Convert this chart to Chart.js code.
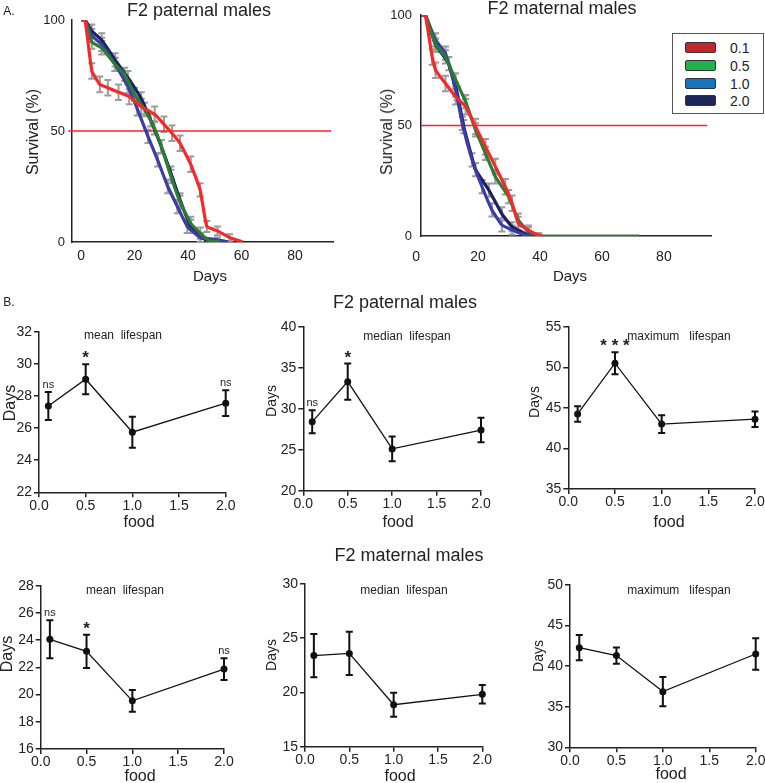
<!DOCTYPE html>
<html>
<head>
<meta charset="utf-8">
<script src="https://cdn.jsdelivr.net/npm/chart.js@4.4.0/dist/chart.umd.min.js"></script>
<style>
html, body { margin:0; padding:0; width:765px; height:783px; overflow:hidden; background:#fff; }
body { position:relative; font-family:"Liberation Sans", Arial, Helvetica, sans-serif; color:#222; }
canvas { position:absolute; }
.txt { position:absolute; white-space:pre; line-height:1; transform:translate(-50%,-50%); }
.rot { transform:translate(-50%,-50%) rotate(-90deg); }
#legend { position:absolute; left:672px; top:33px; width:92px; height:81px; border:1px solid #555; box-sizing:border-box; background:#fff; }
.sw { position:absolute; left:12px; width:31px; height:11px; border:1px solid #333; border-radius:2px; box-sizing:border-box; }
.lg { position:absolute; left:57px; font-size:14px; line-height:1; }
</style>
</head>
<body>
<canvas id="survPat"></canvas>
<canvas id="survMat"></canvas>
<canvas id="patMeanC"></canvas>
<canvas id="patMedianC"></canvas>
<canvas id="patMaxC"></canvas>
<canvas id="matMeanC"></canvas>
<canvas id="matMedianC"></canvas>
<canvas id="matMaxC"></canvas>
<div id="legend"></div>
<script>
// ---- survival curves (panel A) ----
var seriesLabels = ['0.1', '0.5', '1.0', '2.0'];
var lineColors = ['#f42a2a', '#2b7d33', '#3b3da6', '#1d1e66'];
var legendColors = ['#c1272d', '#20b14b', '#1574bb', '#1b2758'];
var survTicksX = [0, 20, 40, 60, 80];
var survTicksY = [0, 50, 100];

// paternal
var patDays01 = [0, 1.5, 4, 7, 10, 14, 18, 22.5, 27.5, 31, 34, 37, 41, 44.5, 47, 51, 55.5, 60.5];
var patSurv01 = [100, 100, 77, 71, 69.5, 67.5, 65.5, 61, 57.5, 53, 49, 44.5, 35, 23.5, 7, 5, 2, 0];
var patErr01 = [0, 0, 3.5, 3.5, 3.5, 3.5, 3.5, 3.5, 3.5, 3.5, 3.5, 3.5, 3.5, 3, 2.5, 2, 1.5, 0];
var patDays05 = [0, 1.5, 4, 7.7, 12.7, 16.3, 20, 23.7, 27.4, 30, 33.6, 37, 41, 44.6, 48, 52];
var patSurv05 = [100, 100, 90, 87.5, 80, 75.5, 66.5, 59.7, 51.4, 43, 29.5, 18, 8.4, 4, 0.5, 0];
var patErr05 = [0, 0, 3, 3, 3, 3, 3, 3, 3, 3, 3, 3, 3, 2.5, 1, 0];
var patDays10 = [0, 1.5, 4, 7.7, 12.7, 17.5, 21, 25, 28.6, 32.4, 36, 39.7, 44.6, 51, 55];
var patSurv10 = [100, 100, 93, 89, 80, 70, 60, 47.6, 37, 25, 16, 7, 2, 1, 0];
var patErr10 = [0, 0, 3, 3, 3, 3, 3, 3, 3, 3, 3, 3, 2, 1, 0];
var patDays20 = [0, 1.5, 4, 7.7, 12.7, 17.5, 22.5, 26, 30, 33.6, 37, 41, 44.6, 48, 52];
var patSurv20 = [100, 100, 95, 91, 82, 74, 64.5, 55, 43, 31, 19, 7, 2, 0.5, 0];
var patErr20 = [0, 0, 3, 3, 3, 3, 3, 3, 3, 3, 3, 3, 2, 1, 0];

// maternal
var matDays01 = [1.7, 3, 5.2, 6.3, 9.5, 12.8, 16, 19.2, 22.4, 25.6, 28.8, 31, 33, 36.3, 39.5, 41];
var matSurv01 = [100, 100, 81, 75, 69, 63, 58.5, 49.5, 40.4, 31.4, 22.3, 14.8, 5.7, 2.7, 0.4, 0];
var matErr01 = [0, 0, 3.5, 3.5, 3.5, 3.5, 3.5, 3.5, 3.5, 3.5, 3.5, 3.5, 3, 2, 1, 0];
var matDays05 = [1.7, 3, 6.3, 9.5, 12.8, 16, 19.2, 22.4, 25.6, 29.9, 33, 36.3, 39.5, 41, 72];
var matSurv05 = [100, 100, 86.4, 81, 70.6, 60.8, 48, 37.4, 26.8, 17.8, 7.2, 2, 0.3, 0, 0];
var matErr05 = [0, 0, 3, 3, 3, 3, 3, 3, 3, 3, 3, 2, 1, 0, 0];
var matDays10 = [1.7, 3, 6.3, 9.5, 12.8, 14.9, 18.1, 21.3, 24.5, 27.7, 31, 35.3, 38];
var matSurv10 = [100, 100, 88.7, 82.7, 66, 51, 34.4, 22.3, 11.8, 5, 2.7, 0.4, 0];
var matErr10 = [0, 0, 3, 3, 3, 3, 3, 3, 3, 3, 2, 1, 0];
var matDays20 = [1.7, 3, 6.3, 10.6, 13.3, 15.4, 19.2, 23.5, 27.7, 31, 35.3, 38];
var matSurv20 = [100, 100, 86.4, 78, 64.5, 49.5, 30, 20.8, 10, 4.2, 1, 0];
var matErr20 = [0, 0, 3, 3, 3, 3, 3, 3, 3, 2, 1, 0];

// ---- lifespan summaries (panel B) ----
var foodLevels = [0.1, 0.5, 1.0, 2.0];
var foodTicks = [0, 0.5, 1.0, 1.5, 2.0];

var patMean = [27.37, 29.04, 25.74, 27.55];
var patMeanErr = [0.87, 0.93, 0.96, 0.8];
var patMeanSig = ['ns', '*', '', 'ns'];
var patMeanTicks = [22, 24, 26, 28, 30, 32];

var patMedian = [28.4, 33.3, 25.1, 27.4];
var patMedianErr = [1.4, 2.2, 1.5, 1.5];
var patMedianSig = ['ns', '*', '', ''];
var patMedianTicks = [20, 25, 30, 35, 40];

var patMax = [44.25, 50.5, 43.0, 43.6];
var patMaxErr = [0.95, 1.35, 1.1, 0.95];
var patMaxSig = ['', '* * *', '', ''];
var patMaxTicks = [35, 40, 45, 50, 55];

var matMean = [24.06, 23.18, 19.54, 21.87];
var matMeanErr = [1.4, 1.22, 0.8, 0.8];
var matMeanSig = ['ns', '*', '', 'ns'];
var matMeanTicks = [16, 18, 20, 22, 24, 26, 28];

var matMedian = [23.4, 23.6, 18.87, 19.83];
var matMedianErr = [2.0, 2.0, 1.1, 0.85];
var matMedianSig = ['', '', '', ''];
var matMedianTicks = [15, 20, 25, 30];

var matMax = [42.28, 41.3, 36.86, 41.5];
var matMaxErr = [1.55, 1.0, 1.8, 1.95];
var matMaxSig = ['', '', '', ''];
var matMaxTicks = [30, 35, 40, 45, 50];

var FONT = '"Liberation Sans", Arial, Helvetica, sans-serif';
Chart.defaults.font.family = FONT;
Chart.defaults.color = '#222';

// error bars drawn under the lines
var errBars = {
	id: 'errbars',
	beforeDatasetsDraw: function(chart, args, opts) {
		var ctx = chart.ctx, xs = chart.scales.x, ys = chart.scales.y;
		ctx.save();
		ctx.strokeStyle = opts.color;
		ctx.lineWidth = opts.width;
		chart.data.datasets.forEach(function(ds) {
			if (!ds.err) return;
			ds.data.forEach(function(p, i) {
				var e = ds.err[i];
				if (!e) return;
				var x = xs.getPixelForValue(p.x);
				var y1 = ys.getPixelForValue(p.y + e);
				var y2 = ys.getPixelForValue(Math.max(p.y - e, ys.min));
				var c = opts.cap / 2;
				ctx.beginPath();
				ctx.moveTo(x, y1); ctx.lineTo(x, y2);
				ctx.moveTo(x - c, y1); ctx.lineTo(x + c, y1);
				ctx.moveTo(x - c, y2); ctx.lineTo(x + c, y2);
				ctx.stroke();
			});
		});
		ctx.restore();
	}
};

// ns / * marks above the error bars
var sigMarks = {
	id: 'sigmarks',
	afterDatasetsDraw: function(chart, args, opts) {
		if (!opts.labels) return;
		var ctx = chart.ctx, xs = chart.scales.x, ys = chart.scales.y;
		var ds = chart.data.datasets[0];
		ctx.save();
		ctx.fillStyle = '#222';
		ctx.textAlign = 'center';
		ctx.textBaseline = 'alphabetic';
		opts.labels.forEach(function(t, i) {
			if (!t) return;
			var p = ds.data[i];
			var x = xs.getPixelForValue(p.x);
			var y = ys.getPixelForValue(p.y + ds.err[i]);
			if (t === 'ns') {
				ctx.font = '11px ' + FONT;
				ctx.fillText(t, x, y - 4);
			} else {
				ctx.font = 'bold 17px ' + FONT;
				ctx.fillText(t, x, y - 1);
			}
		});
		ctx.restore();
	}
};

// put the canvas so the chart area lands on the given page box
function place(id, area, yW, xH) {
	var c = document.getElementById(id);
	var cl = Math.floor(area.l - 70), ct = Math.floor(area.t - 30);
	var w = Math.ceil(area.r + 40) - cl, h = Math.ceil(area.b + 50) - ct;
	c.width = w; c.height = h;
	c.style.left = cl + 'px'; c.style.top = ct + 'px';
	c.style.width = w + 'px'; c.style.height = h + 'px';
	return {
		left: area.l - cl - yW,
		top: area.t - ct,
		right: cl + w - area.r,
		bottom: ct + h - area.b - xH
	};
}

function survivalChart(id, area, xMin, xMax, series, halfLine, yPad, xPad) {
	var pad = place(id, area, 40, 30);
	var datasets = series.map(function(s, k) {
		return {
			label: seriesLabels[k],
			data: s.days.map(function(d, i) { return {x: d, y: s.surv[i]}; }),
			err: s.err,
			borderColor: lineColors[k],
			borderWidth: 3.2,
			pointRadius: 0,
			tension: 0.1,
			fill: false
		};
	});
	datasets.push({
		label: '50%',
		data: [{x: halfLine[0], y: 50}, {x: halfLine[1], y: 50}],
		borderColor: '#ff2020',
		borderWidth: 1.3,
		pointRadius: 0,
		clip: false
	});
	return new Chart(document.getElementById(id), {
		type: 'line',
		data: {datasets: datasets},
		options: {
			responsive: false,
			animation: false,
			layout: {padding: pad},
			plugins: {
				legend: {display: false},
				tooltip: {enabled: false},
				errbars: {color: '#9c9c9c', width: 2, cap: 7}
			},
			scales: {
				x: {
					type: 'linear', min: xMin, max: xMax,
					afterBuildTicks: function(s) { s.ticks = survTicksX.map(function(v) { return {value: v}; }); },
					afterFit: function(s) { s.height = 30; },
					ticks: {font: {size: 14}, padding: xPad, maxRotation: 0, autoSkip: false, color: '#222'},
					grid: {display: false, drawTicks: false},
					border: {display: true, color: '#222', width: 1.5}
				},
				y: {
					min: 0, max: 100,
					afterBuildTicks: function(s) { s.ticks = survTicksY.map(function(v) { return {value: v}; }); },
					afterFit: function(s) { s.width = 40; },
					ticks: {font: {size: 13}, padding: yPad, color: '#222'},
					grid: {display: false, drawTicks: false},
					border: {display: true, color: '#222', width: 1.5}
				}
			}
		},
		plugins: [errBars]
	});
}

function foodChart(id, area, yTicks, vals, errs, sig) {
	var pad = place(id, area, 30, 22);
	return new Chart(document.getElementById(id), {
		type: 'line',
		data: {
			datasets: [{
				data: foodLevels.map(function(f, i) { return {x: f, y: vals[i]}; }),
				err: errs,
				borderColor: '#111',
				borderWidth: 1.3,
				pointRadius: 3.5,
				pointBackgroundColor: '#111',
				pointBorderWidth: 0,
				tension: 0,
				clip: false
			}]
		},
		options: {
			responsive: false,
			animation: false,
			layout: {padding: pad},
			plugins: {
				legend: {display: false},
				tooltip: {enabled: false},
				errbars: {color: '#111', width: 2, cap: 7},
				sigmarks: {labels: sig}
			},
			scales: {
				x: {
					type: 'linear', min: 0, max: 2,
					afterBuildTicks: function(s) { s.ticks = foodTicks.map(function(v) { return {value: v}; }); },
					afterFit: function(s) { s.height = 22; },
					ticks: {font: {size: 14}, padding: 0, maxRotation: 0, autoSkip: false, color: '#222',
						callback: function(v) { return v.toFixed(1); }},
					grid: {display: true, drawOnChartArea: false, drawTicks: true, tickLength: 5, color: '#222', lineWidth: 1.5},
					border: {display: true, color: '#222', width: 1.5}
				},
				y: {
					min: yTicks[0], max: yTicks[yTicks.length - 1],
					afterBuildTicks: function(s) { s.ticks = yTicks.map(function(v) { return {value: v}; }); },
					afterFit: function(s) { s.width = 30; },
					ticks: {font: {size: 14}, padding: 2, color: '#222'},
					grid: {display: true, drawOnChartArea: false, drawTicks: true, tickLength: 5, color: '#222', lineWidth: 1.5},
					border: {display: true, color: '#222', width: 1.5}
				}
			}
		},
		plugins: [errBars, sigMarks]
	});
}

survivalChart('survPat', {l: 72, t: 20, r: 333, b: 242}, -3.4, 94.2, [
	{days: patDays01, surv: patSurv01, err: patErr01},
	{days: patDays05, surv: patSurv05, err: patErr05},
	{days: patDays10, surv: patSurv10, err: patErr10},
	{days: patDays20, surv: patSurv20, err: patErr20}
], [-4.8, 93.5], 7, 6);

survivalChart('survMat', {l: 421, t: 15, r: 711, b: 236}, 1.6, 95.2, [
	{days: matDays01, surv: matSurv01, err: matErr01},
	{days: matDays05, surv: matSurv05, err: matErr05},
	{days: matDays10, surv: matSurv10, err: matErr10},
	{days: matDays20, surv: matSurv20, err: matErr20}
], [1.6, 94], 9, 13);

foodChart('patMeanC', {l: 39, t: 331.7, r: 225.7, b: 492.3}, patMeanTicks, patMean, patMeanErr, patMeanSig);
foodChart('patMedianC', {l: 303.3, t: 326.7, r: 481, b: 490.7}, patMedianTicks, patMedian, patMedianErr, patMedianSig);
foodChart('patMaxC', {l: 568.3, t: 326.7, r: 755, b: 489}, patMaxTicks, patMax, patMaxErr, patMaxSig);
foodChart('matMeanC', {l: 40.7, t: 585.7, r: 224, b: 749}, matMeanTicks, matMean, matMeanErr, matMeanSig);
foodChart('matMedianC', {l: 305, t: 584, r: 482.3, b: 746.7}, matMedianTicks, matMedian, matMedianErr, matMedianSig);
foodChart('matMaxC', {l: 570, t: 585, r: 755.7, b: 747.3}, matMaxTicks, matMax, matMaxErr, matMaxSig);

// legend box of panel A
var lg = document.getElementById('legend');
var rowY = [14, 32, 50, 67];
seriesLabels.forEach(function(t, i) {
	lg.insertAdjacentHTML('beforeend',
		'<div class="sw" style="top:' + (rowY[i] - 6) + 'px;background:' + legendColors[i] + '"></div>' +
		'<div class="lg" style="top:' + (rowY[i] - 7) + 'px">' + t + '</div>');
});

// free text
var texts = [
	['A.', 9, 11, 12, false],
	['F2 paternal males', 199, 10, 18, false],
	['F2 maternal males', 562, 8, 18, false],
	['Survival (%)', 33, 132, 16, true],
	['Survival (%)', 387, 132, 16, true],
	['Days', 210, 275, 15, false],
	['Days', 570, 275, 15, false],
	['B.', 9, 302, 12, false],
	['F2 paternal males', 405, 302, 18, false],
	['F2 maternal males', 409, 555, 18, false],
	['mean  lifespan', 123, 335, 12, false],
	['median  lifespan', 407, 336, 12, false],
	['maximum   lifespan', 679, 336, 12, false],
	['mean  lifespan', 125, 590, 12, false],
	['median  lifespan', 404, 590, 12, false],
	['maximum   lifespan', 679, 590, 12, false],
	['Days', 10, 403, 16, true],
	['Days', 271, 401, 14, true],
	['Days', 534, 402, 14, true],
	['Days', 7, 654, 16, true],
	['Days', 271, 655, 14, true],
	['Days', 538, 656, 14, true],
	['food', 139, 522, 16, false],
	['food', 398, 522, 16, false],
	['food', 669, 522, 16, false],
	['food', 140, 776, 16, false],
	['food', 400, 776, 16, false],
	['food', 671, 774, 16, false]
];
texts.forEach(function(t) {
	var d = document.createElement('div');
	d.className = 'txt' + (t[4] ? ' rot' : '');
	d.textContent = t[0];
	d.style.left = t[1] + 'px';
	d.style.top = t[2] + 'px';
	d.style.fontSize = t[3] + 'px';
	document.body.appendChild(d);
});
</script>
</body>
</html>
